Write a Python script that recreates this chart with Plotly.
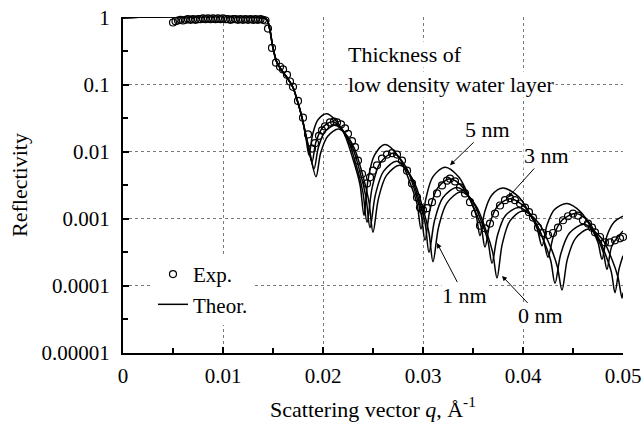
import plotly.graph_objects as go

# ---------------- data (reflectivity stored as log10 R) -------------
# shared total-reflection plateau and critical-edge drop of the theoretical curves
theor_q_edge = [0.0, 0.0140, 0.0144, 0.0147, 0.0150, 0.0154, 0.0159, 0.0164, 0.0170, 0.0174, 0.0179]
theor_log_edge = [0, 0, -0.03, -0.19, -0.45, -0.67, -0.79, -0.89, -1.04, -1.22, -1.49]

# 5 nm low density water layer
theor5_q = [0.0183, 0.0186, 0.01896, 0.0195, 0.0204, 0.0219, 0.0230, 0.0237, 0.0241, 0.0245,
            0.02515, 0.0262, 0.0276, 0.0287, 0.0294, 0.0298, 0.0303, 0.0310, 0.0322, 0.0336,
            0.03465, 0.0353, 0.0357, 0.03616, 0.03685, 0.0380, 0.03956, 0.0407, 0.0414, 0.0419,
            0.0424, 0.04315, 0.0444, 0.0458, 0.04685, 0.0475, 0.0479, 0.0484, 0.0491, 0.0500]
theor5_log = [-1.80, -2.05, -1.74, -1.52, -1.43, -1.66, -2.11, -2.49, -2.95, -2.42,
              -2.05, -1.89, -2.08, -2.46, -2.77, -3.15, -2.69, -2.37, -2.23, -2.38,
              -2.69, -2.94, -3.25, -2.90, -2.65, -2.54, -2.67, -2.93, -3.14, -3.40,
              -3.09, -2.86, -2.77, -2.90, -3.14, -3.35, -3.60, -3.25, -3.05, -2.96]

# 3 nm
theor3_q = [0.0184, 0.0189, 0.0193, 0.01995, 0.0210, 0.02236, 0.02338, 0.02399, 0.0244, 0.02492,
            0.0257, 0.0270, 0.02828, 0.02924, 0.02982, 0.0302, 0.0307, 0.03145, 0.0327, 0.0341,
            0.03515, 0.0358, 0.0362, 0.0367, 0.03745, 0.0387, 0.04022, 0.04136, 0.04204, 0.0425,
            0.04306, 0.0439, 0.0453, 0.04654, 0.04747, 0.04803, 0.0484, 0.0489, 0.0500]
theor3_log = [-1.85, -2.15, -1.85, -1.64, -1.55, -1.78, -2.23, -2.60, -3.05, -2.53,
              -2.17, -2.02, -2.22, -2.61, -2.93, -3.32, -2.86, -2.54, -2.40, -2.55,
              -2.86, -3.11, -3.42, -3.06, -2.81, -2.70, -2.83, -3.09, -3.31, -3.57,
              -3.25, -3.02, -2.92, -3.04, -3.29, -3.50, -3.75, -3.40, -3.18]

# 1 nm
theor1_q = [0.0185, 0.0191, 0.01954, 0.0202, 0.0213, 0.02266, 0.02368, 0.02429, 0.0247, 0.02524,
            0.02605, 0.0274, 0.02868, 0.02964, 0.03022, 0.0306, 0.03116, 0.0320, 0.0334, 0.0348,
            0.03585, 0.03648, 0.0369, 0.03744, 0.03825, 0.0396, 0.04104, 0.04212, 0.04277, 0.0432,
            0.04378, 0.04465, 0.0461, 0.04734, 0.04827, 0.04883, 0.0492, 0.0496, 0.0500]
theor1_log = [-1.90, -2.25, -1.93, -1.70, -1.60, -1.83, -2.29, -2.67, -3.13, -2.64,
              -2.29, -2.14, -2.34, -2.74, -3.07, -3.50, -3.02, -2.68, -2.53, -2.70,
              -3.04, -3.32, -3.66, -3.25, -2.95, -2.83, -3.00, -3.34, -3.62, -3.96,
              -3.52, -3.21, -3.08, -3.23, -3.54, -3.79, -4.10, -3.75, -3.55]

# 0 nm
theor0_q = [0.0186, 0.0193, 0.01976, 0.02045, 0.0216, 0.02296, 0.02398, 0.02459, 0.0250, 0.02554,
            0.02635, 0.0277, 0.02902, 0.03001, 0.0306, 0.0310, 0.03156, 0.0324, 0.0338, 0.03524,
            0.03632, 0.03697, 0.0374, 0.03792, 0.0387, 0.0400, 0.04156, 0.04273, 0.04343, 0.0439,
            0.04444, 0.04525, 0.0466, 0.04792, 0.04891, 0.0495, 0.0499, 0.0500]
theor0_log = [-1.95, -2.37, -2.02, -1.77, -1.66, -1.89, -2.35, -2.74, -3.20, -2.70,
              -2.35, -2.20, -2.42, -2.85, -3.21, -3.64, -3.12, -2.76, -2.60, -2.79,
              -3.18, -3.50, -3.88, -3.38, -3.03, -2.88, -3.06, -3.41, -3.71, -4.06,
              -3.60, -3.29, -3.15, -3.30, -3.61, -3.87, -4.18, -4.10]

# experimental points
exp_q = [0.00500, 0.00525, 0.00550, 0.00575, 0.00600, 0.00625, 0.00650, 0.00675, 0.00700, 0.00725,
         0.00750, 0.00775, 0.00800, 0.00825, 0.00850, 0.00875, 0.00900, 0.00925, 0.00950, 0.00975,
         0.01000, 0.01025, 0.01050, 0.01075, 0.01100, 0.01125, 0.01150, 0.01175, 0.01200, 0.01225,
         0.01250, 0.01275, 0.01300, 0.01325, 0.01350, 0.01375, 0.01400, 0.01425,
         0.0145, 0.0149, 0.0153, 0.0157, 0.0160, 0.0164, 0.0167, 0.0170, 0.0175, 0.0180,
         0.0185, 0.0189, 0.0192, 0.0196, 0.0199, 0.0202, 0.0207, 0.0211, 0.0214, 0.0218,
         0.0222, 0.0225, 0.0229, 0.0232, 0.0235, 0.0239, 0.0244, 0.0247, 0.0250, 0.0254,
         0.0259, 0.0264, 0.0269, 0.0274, 0.0279, 0.0284, 0.0289, 0.0294, 0.0297, 0.0300,
         0.0304, 0.0309, 0.0314, 0.0319, 0.0324, 0.0327, 0.0332, 0.0337, 0.0342, 0.0347,
         0.0352, 0.0357, 0.0362, 0.0367, 0.0372, 0.0377, 0.0382, 0.0387, 0.0392, 0.0397,
         0.0402, 0.0406, 0.0410, 0.0415, 0.0420, 0.0425, 0.0430, 0.0435, 0.0440, 0.0445,
         0.0450, 0.0455, 0.0460, 0.0465, 0.0469, 0.0472, 0.0477, 0.0482, 0.0487, 0.0492,
         0.0497, 0.0500]
exp_log = [-0.07, -0.05, -0.04, -0.03, -0.04, -0.03, -0.02, -0.03, -0.02, -0.03,
           -0.02, -0.02, -0.01, -0.02, -0.01, -0.02, -0.01, -0.02, -0.01, -0.02,
           -0.01, -0.02, -0.02, -0.03, -0.02, -0.02, -0.03, -0.02, -0.03, -0.02,
           -0.03, -0.02, -0.03, -0.02, -0.03, -0.02, -0.03, -0.04,
           -0.16, -0.45, -0.67, -0.73, -0.77, -0.85, -0.95, -1.03, -1.24, -1.49,
           -1.74, -1.95, -1.87, -1.76, -1.68, -1.62, -1.56, -1.55, -1.56, -1.59,
           -1.65, -1.73, -1.84, -1.93, -2.13, -2.33, -2.47, -2.38, -2.28, -2.20,
           -2.10, -2.04, -2.02, -2.04, -2.13, -2.28, -2.47, -2.68, -2.83, -2.87,
           -2.84, -2.75, -2.62, -2.50, -2.43, -2.40, -2.44, -2.53, -2.62, -2.75,
           -2.92, -3.10, -3.14, -3.07, -2.92, -2.80, -2.72, -2.69, -2.72, -2.77,
           -2.83, -2.90, -2.98, -3.13, -3.21, -3.24, -3.21, -3.13, -3.02, -2.96,
           -2.92, -2.95, -3.02, -3.07, -3.13, -3.20, -3.27, -3.35, -3.35, -3.32,
           -3.29, -3.27]

x_tick_vals = [0, 0.01, 0.02, 0.03, 0.04, 0.05]
x_tick_text = ["0", "0.01", "0.02", "0.03", "0.04", "0.05"]
y_tick_vals = [1e-5, 1e-4, 1e-3, 1e-2, 1e-1, 1]
y_tick_text = ["0.00001", "0.0001", "0.001", "0.01", "0.1", "1"]

# ---------------- figure -------------
FONT = "Liberation Serif"
fig = go.Figure()

theory_sets = [(theor5_q, theor5_log), (theor3_q, theor3_log),
               (theor1_q, theor1_log), (theor0_q, theor0_log)]
for i, (qs, ls) in enumerate(theory_sets):
    q_all = theor_q_edge + qs
    r_all = [10 ** v for v in theor_log_edge + ls]
    fig.add_trace(go.Scatter(
        x=q_all, y=r_all, mode="lines",
        line=dict(color="black", width=1.5, shape="spline", smoothing=0.9),
        name="Theor.", legendgroup="theor", showlegend=(i == 0), legendrank=2,
    ))

fig.add_trace(go.Scatter(
    x=exp_q, y=[10 ** v for v in exp_log], mode="markers",
    marker=dict(symbol="circle-open", size=7, color="black", line=dict(width=1.2, color="black")),
    name="Exp.", legendrank=1, cliponaxis=False,
))

axis_common = dict(
    showline=True, linewidth=2, linecolor="black",
    ticks="inside", ticklen=6, tickwidth=1.5, tickcolor="black",
    showgrid=True, gridcolor="#7a7a7a", gridwidth=1, griddash="dot",
    zeroline=False, automargin=False, ticklabeloverflow="allow",
    tickfont=dict(family=FONT, size=21, color="black"),
)

fig.update_xaxes(
    range=[0, 0.05], tickmode="array", tickvals=x_tick_vals, ticktext=x_tick_text,
    minor=dict(tickmode="array", tickvals=[0.005, 0.015, 0.025, 0.035, 0.045],
               ticks="inside", ticklen=5, tickwidth=1.5, tickcolor="black", showgrid=False),
    ticklabelstandoff=3,
    title=dict(text="Scattering vector <i>q</i>, Å<sup>-1</sup>",
               font=dict(family=FONT, size=22, color="black"), standoff=14),
    **axis_common,
)
fig.update_yaxes(
    type="log", range=[-5, 0.012], tickmode="array", tickvals=y_tick_vals, ticktext=y_tick_text,
    minor=dict(tickmode="array",
               tickvals=[3.1623e-5, 3.1623e-4, 3.1623e-3, 3.1623e-2, 3.1623e-1],
               ticks="inside", ticklen=5, tickwidth=1.5, tickcolor="black", showgrid=False),
    ticklabelstandoff=7,
    title=dict(text="Reflectivity", font=dict(family=FONT, size=22, color="black"), standoff=8),
    **axis_common,
)

ann_font = dict(family=FONT, size=22, color="black")
annotations = [
    dict(x=0.0224, y=-0.55, xref="x", yref="y", text="Thickness of", showarrow=False,
         xanchor="left", yanchor="middle", bgcolor="white", font=ann_font, borderpad=0),
    dict(x=0.0224, y=-1.0, xref="x", yref="y", text="low density water layer", showarrow=False,
         xanchor="left", yanchor="middle", bgcolor="white", font=ann_font, borderpad=0),
    dict(x=0.0327, y=-2.20, xref="x", yref="y", text="5 nm", showarrow=True, ax=37, ay=-36,
         arrowhead=2, arrowsize=1, arrowwidth=1, arrowcolor="black", bgcolor="white",
         font=ann_font, borderpad=0),
    dict(x=0.0385, y=-2.68, xref="x", yref="y", text="3 nm", showarrow=True, ax=38, ay=-42,
         arrowhead=2, arrowsize=1, arrowwidth=1, arrowcolor="black", bgcolor="white",
         font=ann_font, borderpad=0),
    dict(x=0.0314, y=-3.36, xref="x", yref="y", text="1 nm", showarrow=True, ax=27, ay=52,
         arrowhead=2, arrowsize=1, arrowwidth=1, arrowcolor="black", bgcolor="white",
         font=ann_font, borderpad=0),
    dict(x=0.0379, y=-3.85, xref="x", yref="y", text="0 nm", showarrow=True, ax=38, ay=40,
         arrowhead=2, arrowsize=1, arrowwidth=1, arrowcolor="black", bgcolor="white",
         font=ann_font, borderpad=0),
]

fig.update_layout(
    width=644, height=427,
    margin=dict(l=123, r=21, t=17, b=74, autoexpand=False),
    paper_bgcolor="white", plot_bgcolor="white",
    font=dict(family=FONT, size=21, color="black"),
    showlegend=True,
    legend=dict(x=0.06, y=0.295, xanchor="left", yanchor="top", bgcolor="white",
                borderwidth=0, font=dict(family=FONT, size=21, color="black"),
                tracegroupgap=0, itemwidth=30),
    annotations=annotations,
)

# remove the default 8 px page margin so the 644x427 figure fills the window exactly
fig.write_html("out.html", config={"displayModeBar": False},
               post_script="document.body.style.margin='0px';")
